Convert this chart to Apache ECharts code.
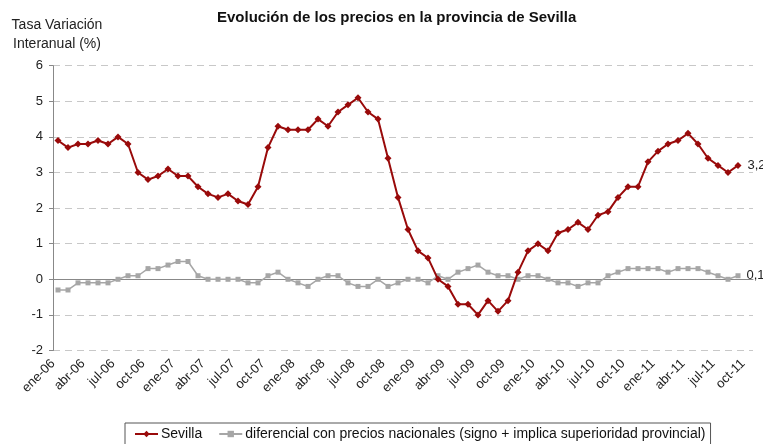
<!DOCTYPE html>
<html>
<head>
<meta charset="utf-8">
<title>Evolución de los precios en la provincia de Sevilla</title>
<script src="https://cdn.jsdelivr.net/npm/echarts@6/dist/echarts.min.js"></script>
<style>
	html, body { margin: 0; padding: 0; background: #fff; }
</style>
</head>
<body>
	<div id="main" style="width: 763px; height: 444px;"></div>
	<script type="text/javascript">

		// meses y años del eje
		var meses = ['ene', 'feb', 'mar', 'abr', 'may', 'jun', 'jul', 'ago', 'sep', 'oct', 'nov', 'dic'];
		var anios = ['06', '07', '08', '09', '10', '11'];

		// tasa de variación interanual, Sevilla (ene-06 .. sep-11)
		var sevilla = [
			3.9, 3.7, 3.8, 3.8, 3.9, 3.8, 4.0, 3.8, 3.0, 2.8, 2.9, 3.1,
			2.9, 2.9, 2.6, 2.4, 2.3, 2.4, 2.2, 2.1, 2.6, 3.7, 4.3, 4.2,
			4.2, 4.2, 4.5, 4.3, 4.7, 4.9, 5.1, 4.7, 4.5, 3.4, 2.3, 1.4,
			0.8, 0.6, 0.0, -0.2, -0.7, -0.7, -1.0, -0.6, -0.9, -0.6, 0.2, 0.8,
			1.0, 0.8, 1.3, 1.4, 1.6, 1.4, 1.8, 1.9, 2.3, 2.6, 2.6, 3.3,
			3.6, 3.8, 3.9, 4.1, 3.8, 3.4, 3.2, 3.0, 3.2
		];

		// diferencial con precios nacionales
		var diferencial = [
			-0.3, -0.3, -0.1, -0.1, -0.1, -0.1, 0.0, 0.1, 0.1, 0.3, 0.3, 0.4,
			0.5, 0.5, 0.1, 0.0, 0.0, 0.0, 0.0, -0.1, -0.1, 0.1, 0.2, 0.0,
			-0.1, -0.2, 0.0, 0.1, 0.1, -0.1, -0.2, -0.2, 0.0, -0.2, -0.1, 0.0,
			0.0, -0.1, 0.1, 0.0, 0.2, 0.3, 0.4, 0.2, 0.1, 0.1, 0.0, 0.1,
			0.1, 0.0, -0.1, -0.1, -0.2, -0.1, -0.1, 0.1, 0.2, 0.3, 0.3, 0.3,
			0.3, 0.2, 0.3, 0.3, 0.3, 0.2, 0.1, 0.0, 0.1
		];

		// categorías: ene-06 .. oct-11 (70 meses)
		var categorias = [];
		anios.forEach(function (a) {
			meses.forEach(function (m) { categorias.push(m + '-' + a); });
		});
		categorias = categorias.slice(0, 70);
		// etiquetas en las marcas del eje (una más al final, que no se ve)
		var etiquetas = categorias.concat(['nov-11']);

		var fuente = 'Liberation Sans, Arial, sans-serif';
		var ultimo = sevilla.length - 1;

		function etiquetaFinal(p) {
			return p.dataIndex === ultimo ? p.value.toFixed(1).replace('.', ',') : '';
		}

		var myChart = echarts.init(document.getElementById('main'));
		myChart.setOption({
			animation: false,
			backgroundColor: '#fff',
			textStyle: { fontFamily: fuente },
			title: [{
				text: 'Evolución de los precios en la provincia de Sevilla',
				left: 217,
				top: 10,
				padding: 0,
				textStyle: { fontSize: 15, fontWeight: 'bold', color: '#111', fontFamily: fuente }
			}, {
				text: 'Tasa Variación\nInteranual (%)',
				left: 57,
				top: 16,
				padding: 0,
				textAlign: 'center',
				textStyle: { fontSize: 14, fontWeight: 'normal', color: '#222', lineHeight: 19, fontFamily: fuente }
			}],
			legend: {
				left: 125,
				top: 423,
				padding: [4, 5, 8, 9],
				itemGap: 16,
				itemWidth: 23,
				itemHeight: 8,
				borderColor: '#555',
				borderWidth: 1,
				textStyle: { fontSize: 14, color: '#111', fontFamily: fuente, padding: [0, 0, 0, -2] },
				data: ['Sevilla', 'diferencial con precios nacionales (signo + implica superioridad provincial)']
			},
			grid: { left: 53, right: 10, top: 65.7, bottom: 93.5, containLabel: false },
			xAxis: [{
				type: 'category',
				data: categorias,
				boundaryGap: true,
				axisLine: { onZero: true, lineStyle: { color: '#888', width: 1 } },
				axisTick: { interval: 2, length: 4, lineStyle: { color: '#888' } },
				axisLabel: { show: false },
				splitLine: { show: false }
			}, {
				type: 'category',
				data: etiquetas,
				boundaryGap: false,
				position: 'bottom',
				axisLine: { show: false, onZero: false },
				axisTick: { show: false },
				axisLabel: {
					interval: 2,
					rotate: 45,
					margin: 11,
					fontSize: 13,
					color: '#222',
					fontFamily: fuente
				},
				splitLine: { show: false }
			}],
			yAxis: {
				type: 'value',
				min: -2,
				max: 6,
				interval: 1,
				axisLine: { show: true, lineStyle: { color: '#888' } },
				axisTick: { show: true, length: 4, lineStyle: { color: '#888' } },
				axisLabel: { fontSize: 13, color: '#222', margin: 10, fontFamily: fuente },
				splitLine: { lineStyle: { color: '#c8c8c8', type: [7, 5], width: 1 } }
			},
			series: [{
				name: 'Sevilla',
				type: 'line',
				xAxisIndex: 0,
				data: sevilla,
				z: 5,
				symbol: 'diamond',
				symbolSize: 7,
				showAllSymbol: true,
				lineStyle: { color: '#990a0a', width: 2 },
				itemStyle: { color: '#990a0a' },
				label: {
					show: true,
					position: 'right',
					distance: 6,
					fontSize: 13,
					color: '#222',
					formatter: etiquetaFinal
				}
			}, {
				name: 'diferencial con precios nacionales (signo + implica superioridad provincial)',
				type: 'line',
				xAxisIndex: 0,
				data: diferencial,
				z: 3,
				symbol: 'rect',
				symbolSize: 5,
				showAllSymbol: true,
				lineStyle: { color: '#a6a6a6', width: 1.5 },
				itemStyle: { color: '#a6a6a6' },
				label: {
					show: true,
					position: 'right',
					distance: 6,
					fontSize: 13,
					color: '#222',
					formatter: etiquetaFinal
				}
			}]
		});
	</script>
</body>
</html>
